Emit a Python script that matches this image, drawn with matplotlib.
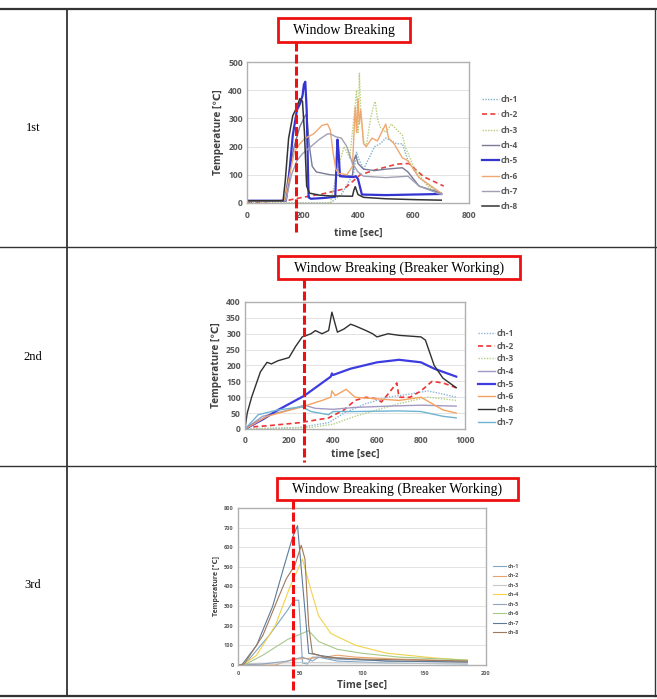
import matplotlib
matplotlib.use("Agg")
import matplotlib.pyplot as plt
from matplotlib.lines import Line2D
from matplotlib.patches import Rectangle

# ---------------- data: 1st test (time [sec], temperature [C]) ----------------
r1_ch1_t = [0, 300, 340, 370, 385, 395, 405, 420, 440, 460, 480, 500, 520, 540, 560, 580, 620, 700]
r1_ch1_v = [0, 0, 30, 80, 110, 180, 150, 120, 160, 200, 210, 230, 220, 210, 210, 150, 90, 30]
r1_ch2_t = [0, 150, 200, 275, 350, 408, 468, 540, 583, 637, 709]
r1_ch2_v = [0, 10, 20, 33, 50, 100, 119, 138, 140, 93, 60]
r1_ch3_t = [0, 300, 330, 350, 370, 385, 395, 400, 405, 410, 420, 430, 445, 455, 462, 470, 480, 500, 520, 540, 560, 570, 600, 650, 700]
r1_ch3_v = [0, 0, 130, 200, 160, 300, 400, 250, 460, 320, 220, 200, 300, 340, 360, 300, 270, 250, 280, 260, 240, 200, 130, 60, 30]
r1_ch4_t = [0, 135, 150, 170, 190, 210, 215, 225, 235, 250, 300, 380, 385, 392, 400, 420, 460, 500, 560, 580, 620, 700]
r1_ch4_v = [8, 8, 100, 200, 270, 310, 315, 200, 130, 110, 100, 95, 150, 170, 140, 120, 115, 120, 125, 110, 60, 35]
r1_ch5_t = [0, 140, 150, 165, 180, 190, 200, 205, 210, 215, 222, 230, 280, 318, 326, 330, 335, 345, 384, 392, 400, 414, 500, 600, 700]
r1_ch5_v = [8, 8, 80, 240, 330, 350, 380, 420, 430, 330, 20, 15, 18, 22, 225, 180, 95, 94, 92, 95, 85, 30, 28, 30, 32]
r1_ch6_t = [0, 135, 150, 170, 190, 210, 240, 270, 290, 300, 310, 320, 330, 360, 380, 390, 395, 400, 405, 410, 420, 430, 450, 470, 490, 500, 510, 530, 560, 580, 620, 700]
r1_ch6_v = [8, 8, 80, 180, 210, 230, 245, 275, 280, 260, 180, 120, 105, 100, 130, 340, 250, 370, 280, 330, 210, 200, 230, 220, 260, 280, 230, 210, 160, 150, 90, 35]
r1_ch7_t = [0, 140, 160, 180, 200, 230, 260, 290, 300, 320, 340, 360, 380, 400, 420, 500, 580, 620, 700]
r1_ch7_v = [8, 8, 100, 150, 175, 200, 225, 245, 245, 235, 230, 200, 140, 110, 95, 90, 95, 60, 30]
r1_ch8_t = [0, 130, 138, 150, 165, 180, 190, 200, 207, 215, 225, 260, 300, 380, 385, 390, 400, 420, 500, 600, 700]
r1_ch8_v = [8, 8, 80, 230, 310, 340, 370, 360, 250, 60, 35, 28, 25, 24, 45, 58, 30, 20, 15, 12, 10]

# ---------------- data: 2nd test ----------------
r2_ch1_t = [0, 250, 380, 450, 550, 650, 750, 830, 900, 960]
r2_ch1_v = [0, 5, 20, 50, 80, 100, 110, 120, 110, 100]
r2_ch2_t = [0, 100, 250, 380, 450, 500, 550, 600, 620, 650, 690, 700, 750, 800, 850, 900, 960]
r2_ch2_v = [5, 10, 20, 35, 60, 90, 100, 95, 85, 110, 145, 100, 100, 120, 150, 145, 130]
r2_ch3_t = [0, 300, 400, 500, 600, 700, 830, 900, 960]
r2_ch3_v = [0, 5, 15, 40, 60, 80, 100, 95, 90]
r2_ch4_t = [0, 80, 200, 270, 320, 400, 500, 650, 800, 960]
r2_ch4_v = [0, 40, 60, 75, 65, 62, 68, 72, 75, 72]
r2_ch5_t = [0, 80, 150, 270, 390, 395, 400, 480, 600, 700, 800, 860, 960]
r2_ch5_v = [0, 30, 60, 105, 165, 175, 170, 190, 210, 218, 210, 190, 165]
r2_ch6_t = [0, 100, 260, 350, 390, 395, 410, 460, 500, 600, 700, 800, 900, 960]
r2_ch6_v = [0, 40, 70, 90, 100, 120, 105, 125, 100, 95, 90, 100, 60, 50]
r2_ch8_t = [0, 10, 30, 70, 100, 120, 150, 200, 230, 260, 300, 320, 350, 380, 395, 420, 450, 480, 500, 550, 580, 600, 650, 700, 800, 820, 860, 900, 960]
r2_ch8_v = [0, 50, 100, 180, 210, 205, 215, 225, 260, 290, 300, 310, 300, 310, 368, 305, 315, 330, 325, 310, 300, 290, 300, 295, 290, 280, 200, 160, 130]
r2_ch7_t = [0, 60, 150, 260, 300, 380, 400, 500, 700, 800, 900, 960]
r2_ch7_v = [0, 45, 60, 70, 55, 45, 55, 55, 57, 55, 40, 35]

# ---------------- data: 3rd test ----------------
r3_ch1_t = [0, 5, 25, 40, 45, 49, 52, 56, 60, 65, 80, 120, 185]
r3_ch1_v = [0, 0, 150, 280, 330, 330, 10, 5, 40, 40, 20, 10, 5]
r3_ch2_t = [0, 30, 45, 60, 70, 80, 95, 130, 185]
r3_ch2_v = [0, 0, 30, 35, 40, 50, 40, 30, 20]
r3_ch3_t = [0, 10, 50, 100, 185]
r3_ch3_v = [0, 8, 12, 10, 8]
r3_ch4_t = [0, 5, 15, 30, 42, 52, 58, 65, 75, 95, 120, 160, 185]
r3_ch4_v = [0, 5, 50, 200, 400, 540, 400, 250, 160, 100, 60, 35, 25]
r3_ch5_t = [0, 20, 40, 52, 60, 65, 80, 120, 185]
r3_ch5_v = [0, 5, 20, 40, 20, 40, 30, 20, 15]
r3_ch6_t = [0, 5, 20, 40, 57, 65, 80, 100, 130, 185]
r3_ch6_v = [0, 0, 50, 130, 175, 120, 80, 60, 40, 25]
r3_ch7_t = [0, 3, 15, 28, 37, 44, 48, 57, 65, 80, 120, 185]
r3_ch7_v = [0, 0, 100, 300, 500, 650, 710, 60, 50, 35, 20, 15]
r3_ch8_t = [0, 5, 20, 33, 39, 46, 51, 54, 57, 60, 70, 100, 185]
r3_ch8_v = [0, 5, 150, 350, 440, 510, 610, 540, 200, 60, 40, 30, 20]

row_labels = ["1st", "2nd", "3rd"]
annot_texts = ["Window Breaking", "Window Breaking (Breaker Working)", "Window Breaking (Breaker Working)"]

W, H = 657, 699
fig = plt.figure(figsize=(W / 100, H / 100), dpi=100)
SANS = ["Open Sans", "DejaVu Sans"]
SERIF = ["Liberation Serif", "DejaVu Serif"]
TICKC = "#595959"


def fx(px):
    return px / W


def fy(py):
    return 1 - py / H


def hline(y, x0, x1, lw=1.2, c="#333333"):
    ln = Line2D([fx(x0), fx(x1)], [fy(y), fy(y)], lw=lw, color=c)
    fig.add_artist(ln)
    return ln


def vline(x, y0, y1, lw=1.2, c="#333333"):
    ln = Line2D([fx(x), fx(x)], [fy(y0), fy(y1)], lw=lw, color=c)
    fig.add_artist(ln)
    return ln


# table grid
hline(9, 0, 657, lw=1.6)
hline(247, 0, 657, lw=1.0)
hline(466, 0, 657, lw=1.0)
hline(696, 0, 657, lw=1.6)
vline(66.5, 9, 696, lw=1.3)
vline(655, 9, 696, lw=1.0)
for lab, yc in zip(row_labels, [128, 357, 585]):
    fig.text(fx(33), fy(yc), lab, family=SERIF, fontsize=9, ha="center", va="center")


def make_axes(box, xlim, xt, ylim, yt, fs, xlabel, lblfs, xpad, xlpad):
    l, t, r, b = box
    ax = fig.add_axes([fx(l), fy(b), fx(r - l), (b - t) / H])
    ax.set_xlim(*xlim)
    ax.set_ylim(*ylim)
    ax.set_xticks(xt)
    ax.set_yticks(yt)
    ax.tick_params(length=0, labelsize=fs, colors=TICKC, pad=3)
    ax.tick_params(axis="x", pad=xpad)
    for lb in ax.get_xticklabels() + ax.get_yticklabels():
        lb.set_fontweight("bold")
        lb.set_family(SANS)
    ax.grid(axis="y", color="#e3e3e3", lw=0.7)
    ax.set_axisbelow(True)
    for s in ax.spines.values():
        s.set_color("#b0b0b0")
        s.set_linewidth(1.0)
    ax.set_xlabel(xlabel, fontsize=lblfs, fontweight="bold", family=SANS, color="#404040", labelpad=xlpad)
    ax.set_ylabel("Temperature [℃]", fontsize=lblfs, fontweight="bold", family=SANS, color="#404040", labelpad=3)
    return ax


def annotate(box_px, line_x, line_y0, line_y1, text, fs):
    l, t, r, b = box_px
    ln = vline(line_x, line_y0, line_y1, lw=2.2, c="#ee1111")
    ln.set_dashes([2.95, 1.0])
    fig.add_artist(Rectangle((fx(l), fy(b)), fx(r - l), (b - t) / H, transform=fig.transFigure,
                             facecolor="white", edgecolor="#ee1111", lw=2.0))
    fig.text(fx((l + r) / 2), fy((t + b) / 2 + 0.5), text, family=SERIF, fontsize=fs, ha="center", va="center")


# ---------- chart 1 ----------
ax1 = make_axes((247, 62, 469, 203), (0, 800), [0, 200, 400, 600, 800], (0, 500), [0, 100, 200, 300, 400, 500],
                6.2, "time [sec]", 7.2, 6, 5)
s1 = [
    (r1_ch1_t, r1_ch1_v, "ch-1", "#7fb3cb", (0, (1, 1)), 1.0),
    (r1_ch2_t, r1_ch2_v, "ch-2", "#e8403f", (0, (3, 2)), 1.2),
    (r1_ch3_t, r1_ch3_v, "ch-3", "#b8cf7a", (0, (1, 1)), 1.0),
    (r1_ch4_t, r1_ch4_v, "ch-4", "#7a7a96", "-", 1.0),
    (r1_ch5_t, r1_ch5_v, "ch-5", "#3434d0", "-", 1.6),
    (r1_ch6_t, r1_ch6_v, "ch-6", "#f0a870", "-", 1.0),
    (r1_ch7_t, r1_ch7_v, "ch-7", "#a0a0b4", "-", 1.0),
    (r1_ch8_t, r1_ch8_v, "ch-8", "#333333", "-", 1.1),
]
for t, v, lab, c, ls, lw in s1:
    ax1.plot(t, v, color=c, ls=ls, lw=lw, label=lab)
lg1 = ax1.legend(loc="upper left", bbox_to_anchor=(fx(482), fy(95)), bbox_transform=fig.transFigure,
                 frameon=False, fontsize=6, labelspacing=0.76, handlelength=2.0, handletextpad=0.2,
                 borderaxespad=0, borderpad=0)
for tx in lg1.get_texts():
    tx.set_fontweight("bold"); tx.set_color(TICKC); tx.set_family(SANS)
annotate((278, 18, 410, 42), 296, 42, 232, annot_texts[0], 10)

# ---------- chart 2 ----------
ax2 = make_axes((245, 302, 465, 429), (0, 1000), [0, 200, 400, 600, 800, 1000], (0, 400),
                [0, 50, 100, 150, 200, 250, 300, 350, 400], 6.2, "time [sec]", 7.2, 5, 3)
s2 = [
    (r2_ch1_t, r2_ch1_v, "ch-1", "#8fb4d9", (0, (1, 1)), 1.0),
    (r2_ch2_t, r2_ch2_v, "ch-2", "#ee3333", (0, (3, 2)), 1.2),
    (r2_ch3_t, r2_ch3_v, "ch-3", "#b5d08a", (0, (1, 1)), 1.0),
    (r2_ch4_t, r2_ch4_v, "ch-4", "#a39ac4", "-", 1.0),
    (r2_ch5_t, r2_ch5_v, "ch-5", "#3c3ce0", "-", 1.6),
    (r2_ch6_t, r2_ch6_v, "ch-6", "#f5a260", "-", 1.0),
    (r2_ch8_t, r2_ch8_v, "ch-8", "#303030", "-", 1.0),
    (r2_ch7_t, r2_ch7_v, "ch-7", "#6fb3d2", "-", 1.0),
]
for t, v, lab, c, ls, lw in s2:
    ax2.plot(t, v, color=c, ls=ls, lw=lw, label=lab)
lg2 = ax2.legend(loc="upper left", bbox_to_anchor=(fx(478), fy(329)), bbox_transform=fig.transFigure,
                 frameon=False, fontsize=6, labelspacing=0.44, handlelength=2.0, handletextpad=0.2,
                 borderaxespad=0, borderpad=0)
for tx in lg2.get_texts():
    tx.set_fontweight("bold"); tx.set_color(TICKC); tx.set_family(SANS)
annotate((278, 256, 520, 279), 304, 279, 462, annot_texts[1], 10)

# ---------- chart 3 ----------
ax3 = make_axes((238, 508, 486, 665), (0, 200), [0, 50, 100, 150, 200], (0, 800),
                [0, 100, 200, 300, 400, 500, 600, 700, 800], 4.0, "Time [sec]", 7.2, 4, 3)
ax3.yaxis.label.set_fontsize(5)
s3 = [
    (r3_ch1_t, r3_ch1_v, "ch-1", "#7fa7c4"),
    (r3_ch2_t, r3_ch2_v, "ch-2", "#e6a36a"),
    (r3_ch3_t, r3_ch3_v, "ch-3", "#c8c8c8"),
    (r3_ch4_t, r3_ch4_v, "ch-4", "#f2d24a"),
    (r3_ch5_t, r3_ch5_v, "ch-5", "#8fa3bf"),
    (r3_ch6_t, r3_ch6_v, "ch-6", "#a6c98a"),
    (r3_ch7_t, r3_ch7_v, "ch-7", "#5d7a99"),
    (r3_ch8_t, r3_ch8_v, "ch-8", "#a0785a"),
]
for t, v, lab, c in s3:
    ax3.plot(t, v, color=c, lw=0.8, label=lab)
lg3 = ax3.legend(loc="upper left", bbox_to_anchor=(fx(493), fy(564)), bbox_transform=fig.transFigure,
                 frameon=False, fontsize=4, labelspacing=0.8, handlelength=2.4, handletextpad=0.3,
                 borderaxespad=0, borderpad=0)
for tx in lg3.get_texts():
    tx.set_fontweight("bold"); tx.set_color(TICKC); tx.set_family(SANS)
annotate((277, 478, 518, 500), 293, 500, 690, annot_texts[2], 10)

fig.savefig("out.png", dpi=100, facecolor="white")
